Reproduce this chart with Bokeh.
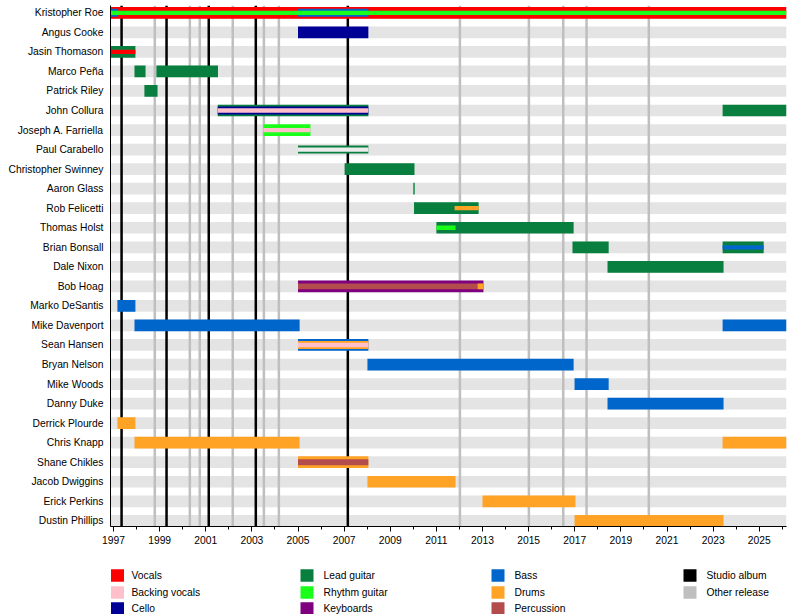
from bokeh.plotting import figure
from bokeh.models import Range1d, FixedTicker, ColumnDataSource
from bokeh.layouts import column
from bokeh.embed import file_html
from bokeh.resources import INLINE
from bokeh.core.properties import value

FONT = "Liberation Sans"

# ---------------- data ----------------
members = ["Kristopher Roe", "Angus Cooke", "Jasin Thomason", "Marco Peña", "Patrick Riley",
           "John Collura", "Joseph A. Farriella", "Paul Carabello", "Christopher Swinney",
           "Aaron Glass", "Rob Felicetti", "Thomas Holst", "Brian Bonsall", "Dale Nixon",
           "Bob Hoag", "Marko DeSantis", "Mike Davenport", "Sean Hansen", "Bryan Nelson",
           "Mike Woods", "Danny Duke", "Derrick Plourde", "Chris Knapp", "Shane Chikles",
           "Jacob Dwiggins", "Erick Perkins", "Dustin Phillips"]

roles = ["Vocals", "Backing vocals", "Cello", "Lead guitar", "Rhythm guitar", "Keyboards",
         "Bass", "Drums", "Percussion"]
role_colors = ["#ff0000", "#ffc0cb", "#000096", "#087f3f", "#1aff1a", "#7f007f",
               "#0066cc", "#ffa326", "#b34d4d"]

timeline_start = 1996.87
timeline_end = 2026.18

# one entry per bar segment: member, role, start, end, layer (0 full, 1 mid, 2 thin, 3 medium-thin)
seg_member = ["Kristopher Roe", "Kristopher Roe", "Kristopher Roe", "Kristopher Roe",
              "Angus Cooke",
              "Jasin Thomason", "Jasin Thomason",
              "Marco Peña", "Marco Peña",
              "Patrick Riley",
              "John Collura", "John Collura", "John Collura", "John Collura",
              "Joseph A. Farriella", "Joseph A. Farriella",
              "Paul Carabello", "Paul Carabello",
              "Christopher Swinney",
              "Aaron Glass",
              "Rob Felicetti", "Rob Felicetti",
              "Thomas Holst", "Thomas Holst",
              "Brian Bonsall", "Brian Bonsall", "Brian Bonsall",
              "Dale Nixon",
              "Bob Hoag", "Bob Hoag", "Bob Hoag",
              "Marko DeSantis",
              "Mike Davenport", "Mike Davenport",
              "Sean Hansen", "Sean Hansen", "Sean Hansen",
              "Bryan Nelson",
              "Mike Woods",
              "Danny Duke",
              "Derrick Plourde",
              "Chris Knapp", "Chris Knapp",
              "Shane Chikles", "Shane Chikles",
              "Jacob Dwiggins",
              "Erick Perkins",
              "Dustin Phillips"]
seg_role = ["Vocals", "Bass", "Bass", "Rhythm guitar",
            "Cello",
            "Lead guitar", "Vocals",
            "Lead guitar", "Lead guitar",
            "Lead guitar",
            "Lead guitar", "Cello", "Backing vocals", "Lead guitar",
            "Rhythm guitar", "Backing vocals",
            "Lead guitar", "gap",
            "Lead guitar",
            "Lead guitar",
            "Lead guitar", "Drums",
            "Lead guitar", "Rhythm guitar",
            "Lead guitar", "Lead guitar", "Bass",
            "Lead guitar",
            "Keyboards", "Percussion", "Drums",
            "Bass",
            "Bass", "Bass",
            "Bass", "Drums", "Backing vocals",
            "Bass",
            "Bass",
            "Bass",
            "Drums",
            "Drums", "Drums",
            "Drums", "Percussion",
            "Drums",
            "Drums",
            "Drums"]
seg_start = [1996.87, 1996.87, 2005.0, 1996.87,
             2005.0,
             1996.87, 1996.87,
             1997.91, 1998.86,
             1998.34,
             2001.52, 2001.52, 2001.52, 2023.41,
             2003.50, 2003.50,
             2005.0, 2005.0,
             2007.02,
             2010.0,
             2010.03, 2011.79,
             2011.0, 2011.0,
             2016.90, 2023.41, 2023.41,
             2018.42,
             2005.0, 2005.0, 2012.78,
             1997.17,
             1997.91, 2023.41,
             2005.0, 2005.0, 2005.0,
             2008.01,
             2016.99,
             2018.42,
             1997.17,
             1997.91, 2023.41,
             2005.0, 2005.0,
             2008.01,
             2013.0,
             2016.99]
seg_end = [2026.18, 1997.20, 2008.05, 2026.18,
           2008.05,
           1997.95, 1997.95,
           1998.39, 2001.53,
           1998.91,
           2008.05, 2008.05, 2008.05, 2026.18,
           2005.54, 2005.54,
           2008.05, 2008.05,
           2010.05,
           2010.06,
           2012.83, 2012.83,
           2016.95, 2011.83,
           2018.47, 2025.19, 2025.19,
           2023.45,
           2013.04, 2012.78, 2013.04,
           1997.95,
           2005.07, 2026.18,
           2008.05, 2008.05, 2008.05,
           2016.95,
           2018.47,
           2023.45,
           1997.95,
           2005.07, 2026.18,
           2008.05, 2008.05,
           2011.83,
           2017.03,
           2023.45]
seg_layer = [0, 1, 1, 2,
             0,
             0, 2,
             0, 0,
             0,
             0, 1, 2, 0,
             0, 2,
             1, 2,
             0,
             0,
             0, 2,
             0, 2,
             0, 0, 2,
             0,
             0, 3, 3,
             0,
             0, 0,
             0, 1, 2,
             0,
             0,
             0,
             0,
             0, 0,
             0, 3,
             0,
             0,
             0]

studio_albums = [1997.35, 1999.30, 2001.13, 2003.17, 2007.16]
other_releases = [1998.79, 2000.31, 2000.74, 2002.17, 2003.52, 2004.17,
                  2012.02, 2015.01, 2016.50, 2017.51, 2020.21]

tick_years = [1997, 1999, 2001, 2003, 2005, 2007, 2009, 2011, 2013, 2015, 2017,
              2019, 2021, 2023, 2025]
minor_years = list(range(1997, 2027))

legend_labels = roles + ["Studio album", "Other release"]
legend_colors = role_colors + ["#000000", "#bfbfbf"]

# ---------------- styles / layout ----------------
BAND = "#e4e4e4"
GAP = "#ececec"
layer_heights = [0.6, 0.41, 0.22, 0.3]

color_of = dict(zip(roles, role_colors))
color_of["gap"] = GAP

W = 798
BORDER_L = 110
BORDER_R = W - 786
FRAME_TOP = 5
FRAME_H = 521
MAIN_BOTTOM = 30
MAIN_H = FRAME_TOP + FRAME_H + MAIN_BOTTOM
LEG_H = 58

# ---------------- main chart ----------------
y_bottom, y_top = 26.29, -0.374
p = figure(width=W, height=MAIN_H, x_range=Range1d(timeline_start, timeline_end),
           y_range=Range1d(y_bottom, y_top), toolbar_location=None, output_backend="svg",
           min_border_left=BORDER_L, min_border_right=BORDER_R,
           min_border_top=FRAME_TOP, min_border_bottom=MAIN_BOTTOM)
p.xgrid.visible = False
p.ygrid.visible = False
p.outline_line_color = None

rows = list(range(len(members)))
p.hbar(y=rows, left=[timeline_start] * len(rows), right=[timeline_end] * len(rows),
       height=0.6, fill_color=BAND, line_color=None)

p.segment(x0=other_releases, x1=other_releases, y0=[y_bottom] * len(other_releases),
          y1=[y_top] * len(other_releases), line_color="#bfbfbf", line_width=2.5)
p.segment(x0=studio_albums, x1=studio_albums, y0=[y_bottom] * len(studio_albums),
          y1=[y_top] * len(studio_albums), line_color="#000000", line_width=2.5)

seg_src = ColumnDataSource(dict(
    y=[members.index(m) for m in seg_member],
    left=seg_start, right=seg_end,
    h=[layer_heights[l] for l in seg_layer],
    c=[color_of[r] for r in seg_role],
))
p.hbar(y="y", left="left", right="right", height="h", fill_color="c", line_color=None,
       source=seg_src)

p.xaxis.ticker = FixedTicker(ticks=tick_years, minor_ticks=minor_years)
p.xaxis.major_tick_out = 5
p.xaxis.major_tick_in = 0
p.xaxis.minor_tick_out = 3
p.xaxis.minor_tick_in = 0
p.xaxis.axis_line_color = "black"
p.xaxis.major_tick_line_color = "black"
p.xaxis.minor_tick_line_color = "black"
p.xaxis.major_label_standoff = 4
p.xaxis.major_label_text_font = FONT
p.xaxis.major_label_text_font_size = "10.3px"
p.xaxis.major_label_text_color = "black"

p.yaxis.ticker = FixedTicker(ticks=rows)
p.yaxis.major_label_overrides = {i: m for i, m in enumerate(members)}
p.yaxis.major_tick_line_color = None
p.yaxis.major_tick_out = 0
p.yaxis.major_tick_in = 0
p.yaxis.minor_tick_line_color = None
p.yaxis.axis_line_color = "black"
p.yaxis.major_label_standoff = 7
p.yaxis.major_label_text_font = FONT
p.yaxis.major_label_text_font_size = "10.3px"
p.yaxis.major_label_text_color = "black"

# ---------------- legend (page-pixel coordinates, frame aligned with main frame) ----------------
leg = figure(width=W, height=LEG_H, x_range=Range1d(BORDER_L, W - BORDER_R),
             y_range=Range1d(LEG_H, 0), toolbar_location=None, output_backend="svg",
             x_axis_location=None, y_axis_location=None,
             min_border_left=BORDER_L, min_border_right=BORDER_R,
             min_border_top=0, min_border_bottom=0)
leg.xgrid.visible = False
leg.ygrid.visible = False
leg.outline_line_color = None

col_left = [110.5, 300, 491, 683]
col_text = [131, 323, 514, 706]
row_y = [19, 36, 52]
sw_x, sw_y, tx_x = [], [], []
for i, lab in enumerate(legend_labels):
    c, r = divmod(i, 3)
    sw_x.append(col_left[c] + 6.5)
    sw_y.append(row_y[r])
    tx_x.append(col_text[c])
leg.rect(x=sw_x, y=sw_y, width=13, height=12.5, fill_color=legend_colors, line_color=None)
leg.text(x=tx_x, y=sw_y, text=legend_labels, text_baseline="middle", text_align="left",
         text_font=value(FONT), text_font_size="10.3px", text_color="black")

layout = column(p, leg)
open("out.html", "w").write(file_html(layout, INLINE))
